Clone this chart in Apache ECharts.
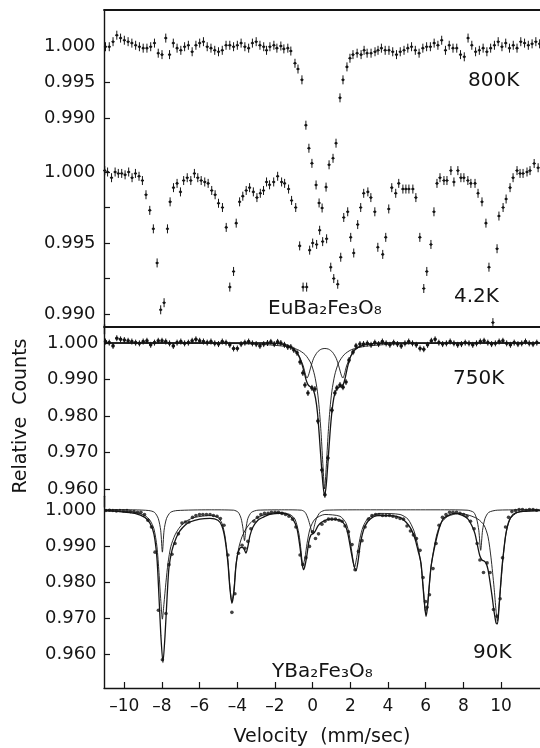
<!DOCTYPE html>
<html><head><meta charset="utf-8">
<script src="https://cdn.jsdelivr.net/npm/echarts@6/dist/echarts.min.js"></script>
<style>html,body{margin:0;padding:0;background:#fff}#c{width:540px;height:748px}</style>
</head><body><div id="c"></div>
<script>
// ---------- tick values ----------
const xTicks = [-10,-8,-6,-4,-2,0,2,4,6,8,10];
const yLab800 = [1.000, 0.995, 0.990];
const yTick800 = [0.995, 0.990];
const yLab42 = [1.000, 0.995, 0.990];
const yTick42 = [1.000, 0.9975, 0.995, 0.9925, 0.990];
const yLabLow = [1.000, 0.990, 0.980, 0.970, 0.960];

// ---------- EuBa2Fe3O8, 800 K (velocity mm/s, relative counts) ----------
const v800 = [
[-11.0,0.9999],[-10.8,0.9999],[-10.6,1.0006],[-10.4,1.0015],[-10.2,1.0011],[-10.0,1.0008],[-9.8,1.0006],[-9.6,1.0004],[-9.4,1.0001],[-9.2,0.9999],[-9.0,0.9997],[-8.8,0.9997],[-8.6,0.9999],[-8.4,1.0004],[-8.2,0.9990],[-8.0,0.9988],[-7.8,1.0011],[-7.6,0.9988],[-7.4,1.0004],[-7.2,0.9997],[-7.0,0.9994],[-6.8,0.9999],[-6.6,1.0001],[-6.4,0.9992],[-6.2,1.0001],[-6.0,1.0004],[-5.8,1.0006],[-5.6,0.9999],[-5.4,0.9997],[-5.2,0.9994],[-5.0,0.9992],[-4.8,0.9994],[-4.6,1.0001],[-4.4,1.0001],[-4.2,0.9999],[-4.0,1.0001],[-3.8,1.0004],[-3.6,0.9999],[-3.4,0.9997],[-3.2,1.0004],[-3.0,1.0006],[-2.8,1.0001],[-2.6,0.9999],[-2.45,0.9994],
[-2.27,0.9999],[-2.06,1.0001],[-1.90,0.9997],[-1.69,1.0000],[-1.53,0.9996],[-1.32,0.9997],[-1.16,0.9993],[-0.94,0.9976],[-0.78,0.9968],[-0.57,0.9953],[-0.36,0.9890],[-0.20,0.9858],[-0.04,0.9837],[0.18,0.9807],[0.34,0.9782],[0.50,0.9775],[0.71,0.9804],[0.87,0.9835],[1.08,0.9844],[1.24,0.9865],[1.45,0.9928],[1.61,0.9953],[1.82,0.9971],[1.98,0.9983],[2.14,0.9988],[2.36,0.9990],[2.57,0.9988],[2.73,0.9994],[2.89,0.9990],[3.10,0.9990],[3.31,0.9992],[3.47,0.9994],
[3.65,0.9997],[3.85,0.9994],[4.05,0.9994],[4.25,0.9992],[4.45,0.9988],[4.65,0.9992],[4.85,0.9994],[5.05,0.9997],[5.25,0.9999],[5.45,0.9994],[5.65,0.9990],[5.85,0.9997],[6.05,0.9999],[6.25,0.9999],[6.45,1.0004],[6.65,1.0001],[6.85,1.0008],[7.05,0.9994],[7.25,1.0001],[7.45,0.9997],[7.65,0.9997],[7.85,0.9988],[8.05,0.9985],[8.25,1.0011],[8.45,1.0001],[8.65,0.9992],[8.85,0.9994],[9.05,0.9997],[9.25,0.9992],[9.45,0.9997],[9.65,1.0001],[9.85,1.0006],[10.05,0.9999],[10.25,1.0004],[10.45,0.9997],[10.65,1.0001],[10.85,0.9997],[11.05,1.0006],[11.25,1.0004],[11.45,1.0001],[11.65,1.0003],[11.85,1.0006],[12.05,1.0003]
];

// ---------- EuBa2Fe3O8, 4.2 K ----------
const v42 = [
[-11.04,1.0001],[-10.89,1.0000],[-10.68,0.9996],[-10.49,1.0000],[-10.32,0.9999],[-10.14,0.9999],[-9.96,0.9998],[-9.77,1.0000],[-9.59,0.9996],[-9.41,0.9999],[-9.22,0.9997],[-9.04,0.9994],[-8.85,0.9984],[-8.65,0.9973],[-8.46,0.9960],[-8.26,0.9936],[-8.07,0.9903],[-7.89,0.9908],[-7.71,0.9960],[-7.57,0.9979],[-7.39,0.9989],[-7.20,0.9992],[-7.02,0.9986],[-6.85,0.9994],[-6.66,0.9996],[-6.47,0.9994],[-6.28,0.9999],[-6.10,0.9996],[-5.92,0.9994],[-5.73,0.9993],[-5.55,0.9992],[-5.36,0.9987],[-5.18,0.9984],[-5.00,0.9978],[-4.79,0.9975],[-4.59,0.9961],[-4.40,0.9919],[-4.20,0.9930],[-4.06,0.9964],[-3.88,0.9979],[-3.71,0.9983],[-3.53,0.9987],[-3.35,0.9989],[-3.15,0.9986],[-2.96,0.9982],[-2.78,0.9985],[-2.61,0.9987],[-2.45,0.9993],
[-2.29,0.9991],[-2.07,0.9993],[-1.86,0.9997],[-1.65,0.9993],[-1.49,0.9992],[-1.28,0.9988],[-1.12,0.9980],[-0.90,0.9975],[-0.69,0.9948],[-0.51,0.9919],[-0.32,0.9919],[-0.16,0.9945],[0.00,0.9950],[0.21,0.9949],[0.37,0.9959],[0.53,0.9951],[0.74,0.9953],[0.96,0.9933],[1.12,0.9925],[1.33,0.9921],[1.49,0.9940],[1.65,0.9968],[1.86,0.9972],[2.02,0.9954],[2.18,0.9943],[2.39,0.9963],[2.55,0.9975],[2.71,0.9985],[2.93,0.9986],[3.09,0.9982],[3.30,0.9972],[3.46,0.9947],[3.72,0.9942],[3.88,0.9954],[4.04,0.9974],[4.20,0.9989],[4.41,0.9985],[4.57,0.9992],[4.79,0.9988],[4.95,0.9988],[5.11,0.9988],[5.32,0.9988],[5.48,0.9982],[5.69,0.9954],[5.90,0.9918],[6.06,0.9930],[6.28,0.9949],[6.44,0.9972],[6.60,0.9992],[6.76,0.9996],[6.97,0.9994],[7.13,0.9994],[7.34,1.0001],[7.50,0.9993],[7.71,1.0001],[7.87,0.9996],[8.03,0.9996],[8.24,0.9994],[8.40,0.9992],[8.62,0.9992],[8.78,0.9985],[8.99,0.9979],[9.20,0.9964],[9.36,0.9933],[9.57,0.9894],[9.79,0.9946],[9.89,0.9969],[10.11,0.9975],[10.27,0.9981],[10.48,0.9989],[10.64,0.9996],[10.85,1.0001],[11.01,0.9999],[11.17,0.9999],[11.38,1.0000],[11.54,1.0001],[11.76,1.0006],[11.97,1.0003]
];

// ---------- YBa2Fe3O8, 750 K ----------
const v750 = [
[-11.0,1.0004],[-10.8,1.0001],[-10.6,0.9992],[-10.4,1.0013],[-10.2,1.0010],[-10.0,1.0008],[-9.8,1.0006],[-9.6,1.0004],[-9.4,1.0001],[-9.2,0.9999],[-9.0,1.0004],[-8.8,1.0006],[-8.6,0.9995],[-8.4,1.0001],[-8.2,1.0006],[-8.0,1.0006],[-7.8,1.0004],[-7.6,0.9999],[-7.4,0.9992],[-7.2,1.0001],[-7.0,1.0004],[-6.8,0.9999],[-6.6,1.0001],[-6.4,1.0006],[-6.2,1.0010],[-6.0,1.0006],[-5.8,1.0004],[-5.6,1.0001],[-5.4,1.0004],[-5.2,0.9999],[-5.0,0.9997],[-4.8,1.0004],[-4.6,1.0001],[-4.4,0.9995],[-4.2,0.9985],[-4.0,0.9985],[-3.8,0.9997],[-3.6,1.0001],[-3.4,1.0004],[-3.2,0.9999],[-3.0,0.9997],[-2.8,0.9992],[-2.6,0.9997],
[-2.40,1.0000],[-2.22,1.0003],[-2.04,0.9997],[-1.86,1.0003],[-1.69,1.0000],[-1.50,0.9995],[-1.32,0.9989],[-1.16,0.9989],[-1.00,0.9981],[-0.83,0.9973],[-0.67,0.9948],[-0.52,0.9918],[-0.41,0.9885],[-0.25,0.9863],[-0.04,0.9877],[0.12,0.9874],[0.28,0.9786],[0.49,0.9652],[0.65,0.9584],[0.81,0.9685],[1.02,0.9816],[1.18,0.9863],[1.29,0.9877],[1.45,0.9885],[1.61,0.9879],[1.77,0.9893],[1.93,0.9953],[2.14,0.9975],[2.30,0.9992],[2.51,0.9997],
[2.7,0.9997],[2.9,0.9999],[3.1,0.9995],[3.3,1.0001],[3.5,0.9997],[3.7,1.0004],[3.9,0.9999],[4.1,0.9995],[4.3,1.0001],[4.5,0.9997],[4.7,0.9992],[4.9,0.9999],[5.1,1.0004],[5.3,0.9999],[5.5,0.9995],[5.7,0.9985],[5.9,0.9983],[6.1,0.9995],[6.3,1.0006],[6.5,1.0010],[6.7,1.0001],[6.9,0.9997],[7.1,0.9999],[7.3,1.0004],[7.5,0.9999],[7.7,0.9995],[7.9,0.9997],[8.1,1.0001],[8.3,0.9999],[8.5,0.9995],[8.7,0.9999],[8.9,1.0004],[9.1,1.0006],[9.3,1.0001],[9.5,0.9997],[9.7,0.9999],[9.9,1.0004],[10.1,1.0006],[10.3,0.9999],[10.5,0.9995],[10.7,1.0001],[10.9,0.9997],[11.1,0.9999],[11.3,1.0004],[11.5,0.9999],[11.7,0.9997],[11.9,1.0001]
];
const fit750Total = [[-11.08,1.0],[-9,1.0],[-7,1.0],[-5,1.0],[-3.5,1.0],[-2.5,1.0],[-2.0,0.9999],[-1.6,0.9997],[-1.3,0.9993],[-1.1,0.9987],[-0.9,0.9977],[-0.75,0.9966],[-0.6,0.9947],[-0.45,0.9920],[-0.35,0.9899],[-0.25,0.9886],[-0.15,0.9881],[-0.05,0.9878],[0.05,0.9869],[0.15,0.9849],[0.25,0.9811],[0.35,0.9748],[0.45,0.9674],[0.55,0.9611],[0.63,0.9581],[0.72,0.9611],[0.82,0.9679],[0.92,0.9753],[1.02,0.9811],[1.12,0.9849],[1.22,0.9868],[1.32,0.9877],[1.42,0.9880],[1.52,0.9882],[1.62,0.9886],[1.72,0.9903],[1.85,0.9934],[2.0,0.9961],[2.2,0.9980],[2.5,0.9991],[3.0,0.9997],[4.0,1.0],[6,1.0],[8,1.0],[10,1.0],[12.07,1.0]];
const fit750Doublet = [[-11.08,1.0],[-8,1.0],[-5,1.0],[-2.5,1.0],[-1.6,0.9997],[-1.2,0.9990],[-0.9,0.9978],[-0.7,0.9962],[-0.5,0.9937],[-0.38,0.9913],[-0.3,0.9904],[-0.22,0.9912],[-0.1,0.9934],[0.05,0.9958],[0.25,0.9975],[0.45,0.9983],[0.65,0.9985],[0.85,0.9983],[1.05,0.9975],[1.25,0.9958],[1.4,0.9934],[1.52,0.9912],[1.6,0.9904],[1.68,0.9913],[1.8,0.9937],[2.0,0.9962],[2.2,0.9978],[2.5,0.9990],[2.9,0.9997],[3.8,1.0],[6,1.0],[9,1.0],[12.07,1.0]];
const fit750Singlet = [[-11.08,1.0],[-8,1.0],[-5,0.9999],[-3.0,0.9997],[-1.5,0.9991],[-0.8,0.9982],[-0.4,0.9968],[-0.1,0.9945],[0.1,0.9912],[0.25,0.9868],[0.35,0.9820],[0.45,0.9750],[0.55,0.9660],[0.63,0.9600],[0.72,0.9660],[0.82,0.9750],[0.92,0.9820],[1.02,0.9868],[1.17,0.9912],[1.37,0.9945],[1.67,0.9968],[2.07,0.9982],[2.8,0.9991],[4.3,0.9997],[6.3,0.9999],[9,1.0],[12.07,1.0]];

// ---------- YBa2Fe3O8, 90 K ----------
const v90 = [
[-10.98,1.0000],[-10.79,1.0001],[-10.61,1.0000],[-10.42,0.9999],[-10.24,1.0000],[-10.05,0.9999],[-9.86,1.0000],[-9.68,0.9997],[-9.49,0.9997],[-9.30,0.9995],[-9.12,0.9995],[-8.93,0.9989],[-8.75,0.9973],[-8.56,0.9954],[-8.37,0.9884],[-8.19,0.9722],[-7.98,0.9584],[-7.79,0.9713],[-7.63,0.9849],[-7.47,0.9878],[-7.31,0.9908],[-7.13,0.9935],[-6.94,0.9965],[-6.76,0.9968],[-6.57,0.9968],[-6.38,0.9981],[-6.20,0.9986],[-6.01,0.9989],[-5.83,0.9989],[-5.64,0.9989],[-5.45,0.9989],[-5.27,0.9986],[-5.08,0.9984],[-4.90,0.9978],[-4.71,0.9959],[-4.50,0.9876],[-4.29,0.9716],[-4.13,0.9768],[-3.94,0.9881],[-3.75,0.9903],[-3.60,0.9895],[-3.44,0.9914],[-3.28,0.9949],[-3.12,0.9970],[-2.93,0.9981],[-2.75,0.9989],[-2.56,0.9992],[-2.37,0.9992],[-2.19,0.9995],[-2.00,0.9995],[-1.82,0.9995],[-1.63,0.9992],[-1.44,0.9989],[-1.26,0.9984],[-1.07,0.9976],[-0.89,0.9954],[-0.67,0.9876],[-0.52,0.9849],[-0.36,0.9868],[-0.17,0.9900],[-0.01,0.9941],[0.15,0.9922],[0.31,0.9935],[0.49,0.9962],[0.65,0.9970],[0.84,0.9976],[1.02,0.9976],[1.21,0.9976],[1.40,0.9973],[1.56,0.9970],[1.72,0.9957],[1.90,0.9941],[2.09,0.9905],[2.25,0.9835],[2.43,0.9886],[2.62,0.9916],[2.78,0.9954],[2.96,0.9976],[3.15,0.9986],[3.34,0.9989],[3.52,0.9989],[3.71,0.9986],[3.89,0.9986],[4.08,0.9986],[4.26,0.9984],[4.45,0.9981],[4.64,0.9978],[4.82,0.9976],[5.01,0.9957],[5.19,0.9943],[5.35,0.9932],[5.51,0.9922],[5.70,0.9889],[5.86,0.9813],[5.99,0.9746],[6.07,0.9730],[6.20,0.9765],[6.39,0.9838],[6.55,0.9908],[6.71,0.9959],[6.89,0.9981],[7.08,0.9989],[7.27,0.9995],[7.45,0.9995],[7.64,0.9995],[7.82,0.9992],[8.01,0.9989],[8.19,0.9984],[8.38,0.9970],[8.57,0.9949],[8.73,0.9908],[8.88,0.9862],[9.07,0.9827],[9.26,0.9854],[9.42,0.9827],[9.60,0.9724],[9.79,0.9705],[9.95,0.9754],[10.08,0.9868],[10.24,0.9954],[10.40,0.9981],[10.58,0.9997],[10.77,1.0000],[10.96,1.0003],[11.14,1.0003],[11.33,1.0001],[11.51,1.0003],[11.70,1.0003],[11.89,1.0001]
];
const fit90Total = [[-11.08,1.0],[-10.24,0.9997],[-9.44,0.9992],[-8.91,0.9981],[-8.64,0.9965],[-8.43,0.9935],[-8.27,0.9868],[-8.16,0.9759],[-8.06,0.9651],[-7.95,0.9576],[-7.84,0.9651],[-7.73,0.9759],[-7.63,0.9841],[-7.47,0.9889],[-7.26,0.9922],[-7.05,0.9943],[-6.78,0.9959],[-6.52,0.9968],[-5.99,0.9976],[-5.45,0.9978],[-5.03,0.9973],[-4.82,0.9957],[-4.66,0.9922],[-4.50,0.9854],[-4.40,0.9786],[-4.29,0.9741],[-4.18,0.9773],[-4.08,0.9841],[-3.97,0.9881],[-3.81,0.9897],[-3.67,0.9895],[-3.54,0.9881],[-3.44,0.9900],[-3.33,0.9930],[-3.17,0.9954],[-2.91,0.9973],[-2.64,0.9981],[-2.27,0.9989],[-1.74,0.9992],[-1.32,0.9989],[-1.05,0.9976],[-0.83,0.9949],[-0.68,0.9900],[-0.57,0.9854],[-0.49,0.9835],[-0.41,0.9846],[-0.30,0.9878],[-0.20,0.9914],[-0.09,0.9932],[0.02,0.9935],[0.12,0.9941],[0.28,0.9957],[0.49,0.9968],[0.92,0.9976],[1.45,0.9973],[1.72,0.9959],[1.87,0.9935],[2.03,0.9889],[2.17,0.9851],[2.30,0.9832],[2.41,0.9859],[2.51,0.9900],[2.62,0.9930],[2.78,0.9957],[3.04,0.9976],[3.47,0.9986],[4.10,0.9986],[4.64,0.9981],[4.95,0.9968],[5.22,0.9949],[5.43,0.9922],[5.59,0.9889],[5.75,0.9854],[5.86,0.9786],[5.96,0.9727],[6.02,0.9705],[6.10,0.9732],[6.18,0.9786],[6.28,0.9841],[6.39,0.9876],[6.55,0.9916],[6.71,0.9949],[6.92,0.9976],[7.18,0.9986],[7.56,0.9992],[7.98,0.9986],[8.25,0.9976],[8.46,0.9957],[8.62,0.9935],[8.78,0.9895],[8.88,0.9873],[8.99,0.9862],[9.10,0.9859],[9.20,0.9854],[9.31,0.9835],[9.42,0.9800],[9.53,0.9759],[9.63,0.9719],[9.74,0.9686],[9.81,0.9684],[9.89,0.9727],[9.97,0.9786],[10.05,0.9841],[10.16,0.9895],[10.26,0.9935],[10.42,0.9970],[10.64,0.9989],[11.01,0.9997],[12.07,1.0]];
const fit90SiteA = [[-11.08,1.0],[-9.44,0.9995],[-8.91,0.9986],[-8.64,0.9973],[-8.43,0.9949],[-8.27,0.9900],[-8.16,0.9827],[-8.06,0.9746],[-7.98,0.9697],[-7.90,0.9738],[-7.79,0.9800],[-7.68,0.9854],[-7.53,0.9900],[-7.31,0.9932],[-7.05,0.9954],[-6.73,0.9970],[-6.25,0.9981],[-5.45,0.9986],[-5.03,0.9981],[-4.82,0.9965],[-4.66,0.9930],[-4.50,0.9862],[-4.40,0.9792],[-4.29,0.9746],[-4.18,0.9781],[-4.08,0.9846],[-3.92,0.9897],[-3.75,0.9927],[-3.54,0.9949],[-3.22,0.9970],[-2.69,0.9986],[-1.74,0.9995],[-1.21,0.9989],[-0.94,0.9976],[-0.73,0.9935],[-0.62,0.9889],[-0.52,0.9846],[-0.41,0.9868],[-0.30,0.9908],[-0.14,0.9949],[0.12,0.9976],[0.65,0.9989],[1.45,0.9984],[1.77,0.9965],[1.93,0.9935],[2.09,0.9881],[2.22,0.9841],[2.35,0.9873],[2.51,0.9922],[2.67,0.9954],[2.94,0.9978],[3.57,0.9992],[4.64,0.9989],[5.06,0.9976],[5.38,0.9943],[5.59,0.9900],[5.75,0.9849],[5.88,0.9781],[5.99,0.9719],[6.07,0.9727],[6.18,0.9781],[6.28,0.9841],[6.44,0.9895],[6.60,0.9935],[6.81,0.9965],[7.18,0.9984],[7.82,0.9992],[8.35,0.9986],[8.78,0.9976],[9.10,0.9959],[9.31,0.9927],[9.47,0.9868],[9.63,0.9786],[9.74,0.9719],[9.81,0.9692],[9.89,0.9732],[10.00,0.9800],[10.11,0.9868],[10.26,0.9935],[10.48,0.9976],[10.90,0.9995],[12.07,1.0]];
const fit90SiteB = [[-11.08,1.0003],[-9.5,1.0002],[-8.7,1.0000],[-8.4,0.9995],[-8.2,0.9978],[-8.07,0.9945],[-7.98,0.9884],[-7.89,0.9945],[-7.76,0.9978],[-7.55,0.9995],[-7.2,1.0000],[-5.5,1.0002],[-4.2,1.0001],[-3.95,0.9995],[-3.8,0.9978],[-3.70,0.9950],[-3.62,0.9916],[-3.54,0.9950],[-3.44,0.9978],[-3.25,0.9995],[-2.9,1.0001],[-1.5,1.0002],[-0.6,1.0001],[-0.4,0.9995],[-0.25,0.9978],[-0.12,0.9955],[-0.02,0.9935],[0.08,0.9955],[0.2,0.9978],[0.4,0.9995],[0.7,1.0001],[2.5,1.0002],[5,1.0002],[7,1.0002],[8.2,1.0001],[8.55,0.9995],[8.7,0.9978],[8.82,0.9945],[8.92,0.9889],[9.02,0.9945],[9.15,0.9978],[9.35,0.9995],[9.8,1.0001],[11,1.0002],[12.07,1.0003]];

// ---------- chart ----------
const XMIN = -11.08, XMAX = 12.07;
const Y90MIN = 0.9505, Y90MAX = 1.004;
const FONT = 'DejaVu Sans';
const INK = '#141414';
const chart = echarts.init(document.getElementById('c'), null, {renderer: 'canvas'});

function errCross(h, w, r) {
  return function (params, api) {
    const p = api.coord([api.value(0), api.value(1)]);
    return {type: 'group', children: [
      {type: 'line', shape: {x1: p[0], y1: p[1] - h, x2: p[0], y2: p[1] + h}, style: {stroke: INK, lineWidth: 1}},
      {type: 'line', shape: {x1: p[0] - w, y1: p[1], x2: p[0] + w, y2: p[1]}, style: {stroke: INK, lineWidth: 1}},
      {type: 'circle', shape: {cx: p[0], cy: p[1], r: r}, style: {fill: INK}}
    ]};
  };
}
function xAx(i, show) {
  return {
    type: 'value', gridIndex: i, min: XMIN, max: XMAX,
    position: i === 0 ? 'top' : 'bottom',
    axisLine: {show: show || i === 0 || i === 1, onZero: false, lineStyle: {color: INK, width: i === 0 || i === 1 ? 1.8 : 1.4}},
    axisTick: {show: show, inside: true, length: 6, customValues: xTicks, lineStyle: {color: INK, width: 1.2}},
    axisLabel: {show: show, customValues: xTicks, margin: 10, color: INK, fontFamily: FONT, fontSize: 17,
      showMinLabel: true, showMaxLabel: true, hideOverlap: false,
      formatter: v => (v < 0 ? '\u2013' + Math.abs(v) : String(v))},
    splitLine: {show: false},
    name: show ? 'Velocity  (mm/sec)' : '', nameLocation: 'middle', nameGap: 40,
    nameTextStyle: {color: INK, fontFamily: FONT, fontSize: 19}
  };
}
function yAx(i, min, max, labs, ticks, margin, showLine, extra) {
  return Object.assign({
    type: 'value', gridIndex: i, min: min, max: max,
    axisLine: {show: showLine, onZero: false, lineStyle: {color: INK, width: 1.4}},
    axisTick: {show: true, inside: true, length: 6, customValues: ticks, lineStyle: {color: INK, width: 1.2}},
    axisLabel: {show: true, customValues: labs, align: 'left', margin: margin, color: INK, fontFamily: FONT, fontSize: 18,
      showMinLabel: true, showMaxLabel: true, formatter: v => v.toFixed(3)},
    splitLine: {show: false}
  }, extra || {});
}
function note(text, left, top) {
  return {text: text, left: left, top: top, padding: 0, itemGap: 0,
    textStyle: {color: INK, fontFamily: FONT, fontSize: 20, fontWeight: 'normal'}};
}

const option = {
  animation: false,
  backgroundColor: '#fff',
  title: [
    note('800K', 468, 71),
    note('4.2K', 454, 287),
    note('EuBa\u2082Fe\u2083O\u2088', 268, 299),
    note('750K', 453, 369),
    note('90K', 473, 643),
    note('YBa\u2082Fe\u2083O\u2088', 272, 662)
  ],
  grid: [
    {left: 104, width: 436, top: 10, height: 324},
    {left: 104, width: 436, top: 136.5, height: 190.5},
    {left: 104, width: 436, top: 324.75, height: 182.5},
    {left: 104, width: 436, top: 496.2, height: 197.9}
  ],
  xAxis: [xAx(0, false), xAx(1, false), xAx(2, false), xAx(3, true)],
  yAxis: [
    yAx(0, 0.960, 1.005, yLab800, yTick800, 60, true),
    yAx(1, 0.98909, 1.0025, yLab42, yTick42, 60, false),
    yAx(2, 0.955, 1.005, yLabLow, yLabLow, 57, true, {
      name: 'Relative  Counts', nameLocation: 'middle', nameRotate: 90, nameGap: 73,
      nameTextStyle: {color: INK, fontFamily: FONT, fontSize: 19}}),
    yAx(3, Y90MIN, Y90MAX, yLabLow, yLabLow, 59, true)
  ],
  series: [
    {type: 'custom', name: '800K', xAxisIndex: 0, yAxisIndex: 0, data: v800, renderItem: errCross(4.5, 1.6, 1.3), encode: {x: 0, y: 1}},
    {type: 'custom', name: '4.2K', xAxisIndex: 1, yAxisIndex: 1, data: v42, renderItem: errCross(4.5, 1.6, 1.3), encode: {x: 0, y: 1}},
    {type: 'line', name: '750K singlet', xAxisIndex: 2, yAxisIndex: 2, data: fit750Singlet, showSymbol: false, smooth: 0.25, lineStyle: {color: INK, width: 0.9}},
    {type: 'line', name: '750K doublet', xAxisIndex: 2, yAxisIndex: 2, data: fit750Doublet, showSymbol: false, smooth: 0.25, lineStyle: {color: INK, width: 0.9}},
    {type: 'line', name: '750K fit', xAxisIndex: 2, yAxisIndex: 2, data: fit750Total, showSymbol: false, smooth: 0.25, lineStyle: {color: INK, width: 1.3}},
    {type: 'custom', name: '750K', xAxisIndex: 2, yAxisIndex: 2, data: v750, renderItem: errCross(3, 1.2, 1.8), encode: {x: 0, y: 1}},
    {type: 'line', name: '90K site B', xAxisIndex: 3, yAxisIndex: 3, data: fit90SiteB, showSymbol: false, smooth: 0.25, lineStyle: {color: INK, width: 0.9}},
    {type: 'line', name: '90K site A', xAxisIndex: 3, yAxisIndex: 3, data: fit90SiteA, showSymbol: false, smooth: 0.25, lineStyle: {color: INK, width: 0.9}},
    {type: 'line', name: '90K fit', xAxisIndex: 3, yAxisIndex: 3, data: fit90Total, showSymbol: false, smooth: 0.25, lineStyle: {color: INK, width: 1.3}},
    {type: 'scatter', name: '90K', xAxisIndex: 3, yAxisIndex: 3, data: v90, symbolSize: 3.6, itemStyle: {color: INK}}
  ]
};
chart.setOption(option);
</script></body></html>
